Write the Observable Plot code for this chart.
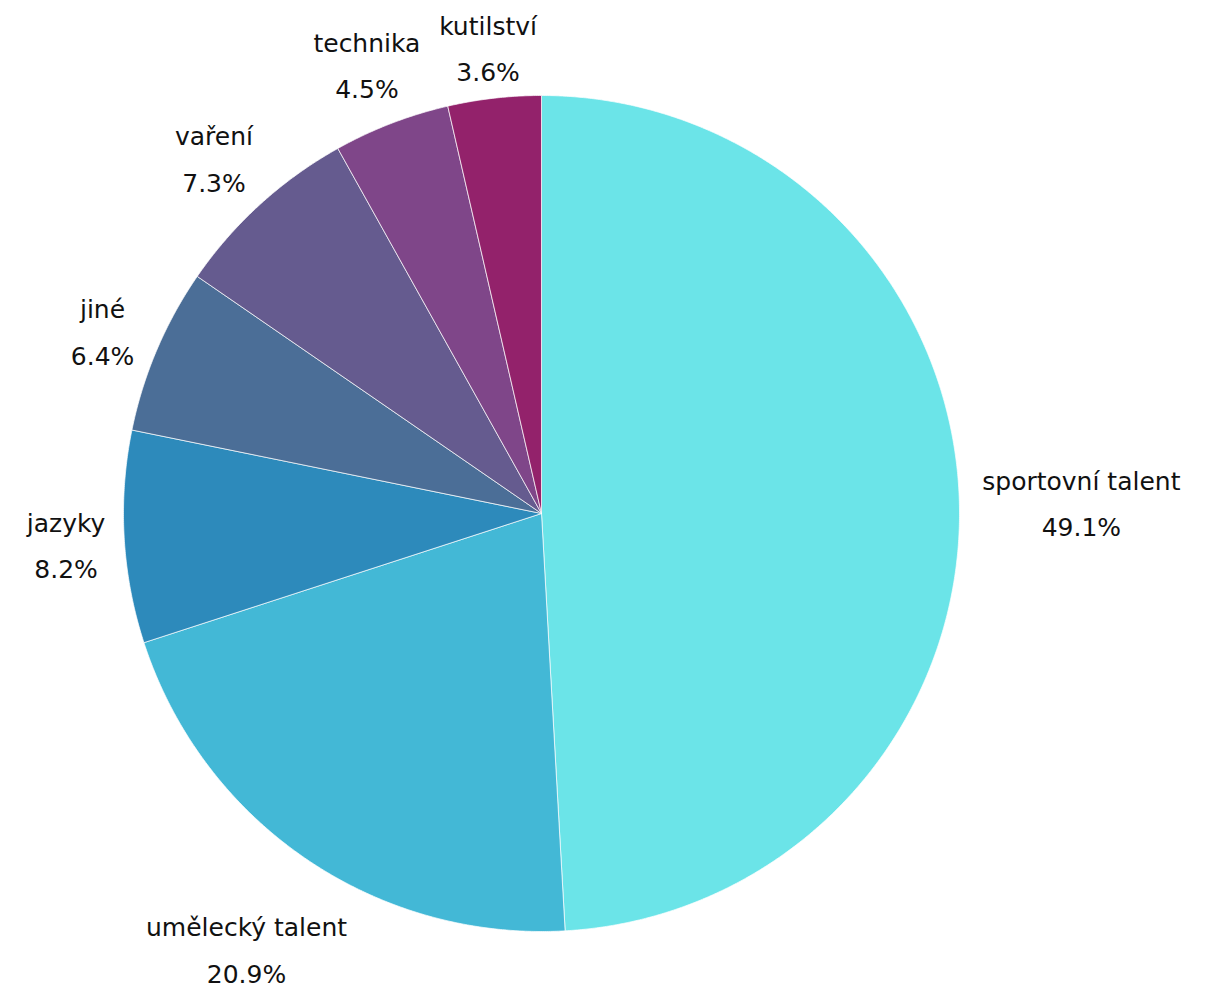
<!DOCTYPE html>
<html>
<head>
<meta charset="utf-8">
<script src="https://cdn.jsdelivr.net/npm/d3@7"></script>
<script src="https://cdn.jsdelivr.net/npm/@observablehq/plot@0.6"></script>
<style>
  html, body { margin: 0; padding: 0; background: #fff; }
  #chart svg { display: block; }
</style>
</head>
<body>
<div id="chart"></div>
<script>
const categories = ["sportovní talent", "umělecký talent", "jazyky", "jiné", "vaření", "technika", "kutilství"];
const values = [49.1, 20.9, 8.2, 6.4, 7.3, 4.5, 3.6];
const colors = ["#6be4e8", "#43b8d6", "#2d8abb", "#4b6e97", "#655b8f", "#7f4689", "#93226b"];

const W = 1215, H = 991;
const cx = 541, cy = 513, R = 418;
const fontSize = 25;
const letterSpacing = 1;
const fontFamily = "'DejaVu Sans', sans-serif";

const arcs = d3.pie().sort(null).value(d => d.value).startAngle(0).endAngle(2 * Math.PI)(
  categories.map((c, i) => ({category: c, value: values[i]}))
);

// slice outlines as polygons (units = pixels, y up, origin at pie center)
const slicePts = [];
arcs.forEach(a => {
  const c = a.data.category;
  slicePts.push({category: c, x: 0, y: 0});
  const n = Math.max(2, Math.ceil((a.endAngle - a.startAngle) / 0.005));
  for (let k = 0; k <= n; k++) {
    const t = a.startAngle + (a.endAngle - a.startAngle) * k / n;
    slicePts.push({category: c, x: R * Math.sin(t), y: R * Math.cos(t)});
  }
  slicePts.push({category: c, x: 0, y: 0});
});

// label positions: box placed just outside the pie along the mid angle
const ctx = document.createElement("canvas").getContext("2d");
ctx.font = `${fontSize}px ${fontFamily}`;
const lineH = 1.85;
const measure = s => ctx.measureText(s).width + letterSpacing * s.length;
const labels = arcs.map(a => {
  const mid = (a.startAngle + a.endAngle) / 2;
  const pct = `${a.data.value.toFixed(1)}%`;
  const txt = `${a.data.category}\n${pct}`;
  const w = Math.max(measure(a.data.category), measure(pct));
  const h = fontSize * (1 + lineH);
  const ux = Math.sin(mid), uy = Math.cos(mid);
  const support = Math.abs(ux) * w / 2 + Math.abs(uy) * h / 2;
  const rr = R + 14 + support;
  return {text: txt, x: rr * ux, y: rr * uy};
});

const chart = Plot.plot({
  width: W,
  height: H,
  margin: 0,
  x: {domain: [-cx, W - cx], axis: null},
  y: {domain: [cy - H, cy], axis: null},
  color: {domain: categories, range: colors},
  marks: [
    Plot.line(slicePts, {x: "x", y: "y", z: "category", fill: "category", stroke: "white", strokeWidth: 0.7, curve: "linear"}),
    Plot.text(labels, {x: "x", y: "y", text: "text", fontSize: fontSize, lineHeight: lineH, fill: "#111", textAnchor: "middle", letterSpacing: `${letterSpacing}px`})
  ],
  style: {fontFamily: fontFamily, background: "white"}
});
document.getElementById("chart").appendChild(chart);
</script>
</body>
</html>
